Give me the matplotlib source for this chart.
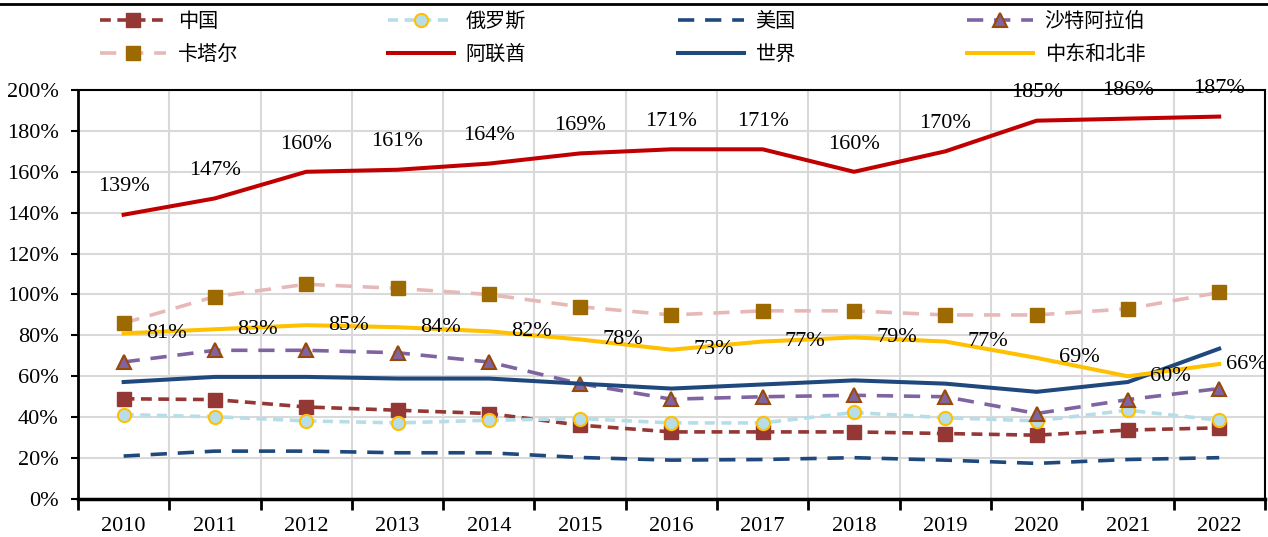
import matplotlib.pyplot as plt
from matplotlib.lines import Line2D
from matplotlib.ticker import PercentFormatter, FixedLocator

years = ['2010', '2011', '2012', '2013', '2014', '2015', '2016',
         '2017', '2018', '2019', '2020', '2021', '2022']

china = [49, 48.6, 45, 43.4, 41.8, 36.1, 32.8, 32.8, 32.8, 32, 31.2, 33.7, 34.8]
russia = [41.3, 40.2, 38.2, 37.2, 38.5, 39.3, 37.2, 37.2, 42.3, 39.7, 38.2, 43.4, 38.5]
usa = [21, 23.4, 23.4, 22.6, 22.6, 20.3, 19, 19.3, 20.2, 19, 17.4, 19.3, 20.2]
saudi = [67, 72.7, 72.7, 71.5, 67, 56.4, 48.8, 50, 50.7, 50, 41.8, 48.6, 54]
qatar = [86, 99, 105, 103, 100, 94, 90, 92, 92, 90, 90, 93, 101]
uae = [139, 147, 160, 161, 164, 169, 171, 171, 160, 170, 185, 186, 187]
world = [57.2, 59.7, 59.7, 58.9, 58.9, 56.4, 54, 56, 58, 56.4, 52.4, 57.2, 73.5]
mena = [81, 83, 85, 84, 82, 78, 73, 77, 79, 77, 69, 60, 66]

serif = ['Liberation Serif', 'DejaVu Serif']
cjk = ['Noto Sans CJK SC', 'DejaVu Sans']

fig = plt.figure(figsize=(12.68, 5.37), dpi=100)
ax = fig.add_axes([0.0615, 0.0708, 0.936, 0.7616])

x = list(range(len(years)))

styles = [
    ('中国', china, dict(color='#953735', lw=2.6, dashes=(3, 1.8), marker='s', ms=10,
                       mfc='#953735', mec='#953735')),
    ('俄罗斯', russia, dict(color='#b7dee8', lw=2.6, dashes=(2.8, 1.8), marker='o', ms=9.5,
                         mfc='#b7dee8', mec='#ffc000', mew=1.5)),
    ('美国', usa, dict(color='#1f497d', lw=2.6, dashes=(4.5, 3))),
    ('沙特阿拉伯', saudi, dict(color='#8064a2', lw=2.6, dashes=(4.5, 3), marker='^', ms=10.5,
                           mfc='#8064a2', mec='#984807', mew=1.5)),
    ('卡塔尔', qatar, dict(color='#e6b9b8', lw=2.6, dashes=(4.5, 3), marker='s', ms=10.5,
                        mfc='#9c6a00', mec='#9c6a00')),
    ('阿联酋', uae, dict(color='#c00000', lw=2.9)),
    ('世界', world, dict(color='#1f497d', lw=2.9)),
    ('中东和北非', mena, dict(color='#ffc000', lw=2.9)),
]

handles = {}
for name, vals, st in styles:
    h, = ax.plot(x, vals, label=name, clip_on=False, **st)
    handles[name] = h

# data labels
for i, v in enumerate(uae):
    ax.annotate(f'{v:.0f}%', (i, v), xytext=(0, 20), textcoords='offset points',
                ha='center', va='center', fontsize=16, family=serif,
                annotation_clip=False)
for i, v in enumerate(mena):
    dx = 16 if i < len(mena) - 1 else 5
    ax.annotate(f'{v:.0f}%', (i, v), xytext=(dx, 0), textcoords='offset points',
                ha='left', va='center', fontsize=16, family=serif,
                annotation_clip=False)

ax.set_xlim(-0.5, len(years) - 0.5)
ax.set_ylim(0, 200)
ax.set_yticks(range(0, 201, 20))
ax.yaxis.set_major_formatter(PercentFormatter(xmax=100, decimals=0))

ax.set_xticks(x)
ax.set_xticklabels(years)
ax.xaxis.set_minor_locator(FixedLocator([i + 0.5 for i in range(-1, len(years))]))
ax.tick_params(axis='x', which='major', length=0, pad=13)
ax.tick_params(axis='x', which='minor', length=8, width=2, direction='out')
ax.tick_params(axis='y', length=5, width=1.5, direction='out', pad=9)
for lab in ax.get_xticklabels() + ax.get_yticklabels():
    lab.set_family(serif)
    lab.set_fontsize(16)

ax.grid(axis='y', which='major', color='#d9d9d9', lw=1.5)
ax.grid(axis='x', which='minor', color='#d9d9d9', lw=1.5)
ax.set_axisbelow(True)

for side, w in [('left', 2), ('bottom', 2.5), ('top', 1.5), ('right', 1.5)]:
    ax.spines[side].set_color('black')
    ax.spines[side].set_linewidth(w)

# legend: one per column so the columns line up like the original
order = [['中国', '卡塔尔'], ['俄罗斯', '阿联酋'], ['美国', '世界'], ['沙特阿拉伯', '中东和北非']]
col_x = [100, 388, 678, 967]
for names, cx in zip(order, col_x):
    fig.legend([handles[n] for n in names], names, loc='upper left',
               bbox_to_anchor=(cx / 1268, 0.98), frameon=False,
               prop={'family': cjk, 'size': 14.5}, borderpad=0, borderaxespad=0,
               handlelength=3.3, handletextpad=0.55, labelspacing=0.6,
               numpoints=1)

# rule at the very top of the picture
fig.add_artist(Line2D([0, 1], [1 - 4 / 537, 1 - 4 / 537], color='black', lw=2,
                      transform=fig.transFigure))

fig.savefig('out.png', dpi=100)
